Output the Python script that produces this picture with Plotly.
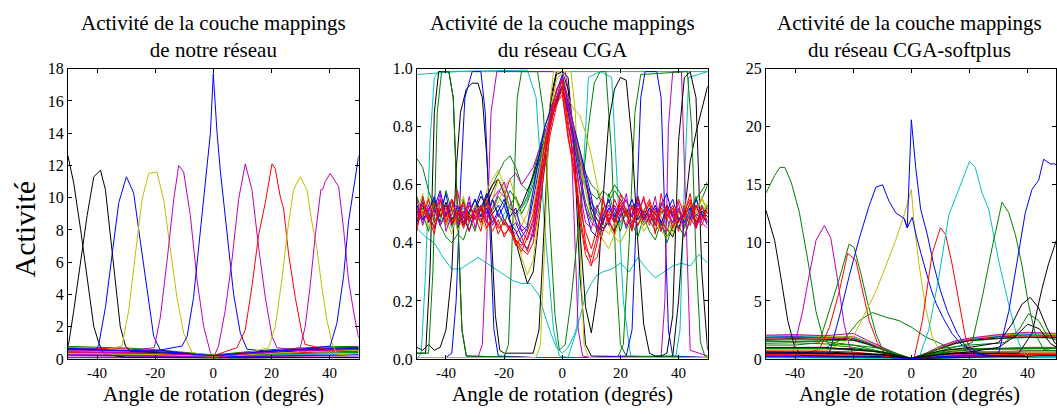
import plotly.graph_objects as go

# couleurs matplotlib "classiques"
B, G, R, C, M, Y, K = '#0000ff', '#008000', '#ff0000', '#00bfbf', '#bf00bf', '#bfbf00', '#000000'
FONT = 'Liberation Serif'

ANGLE_TICKS = [-40, -20, 0, 20, 40]
ANGLE_LABELS = ['-40', '-20', '0', '20', '40']
Y1_TICKS = list(range(0, 19, 2))
Y2_TICKS = [0.0, 0.2, 0.4, 0.6, 0.8, 1.0]
Y3_TICKS = [0, 5, 10, 15, 20, 25]

TITLES = [('Activité de la couche mappings', 'de notre réseau'),
          ('Activité de la couche mappings', 'du réseau CGA'),
          ('Activité de la couche mappings', 'du réseau CGA-softplus')]
XLABEL = 'Angle de rotation (degrés)'
YLABEL = 'Activité'

# ---------------- panneau 1 : notre réseau ----------------
n_k1_x = [-50, -48, -45.7, -43.4, -41.1, -39.4, -37.7, -30, -20, -10, 0, 10, 20, 30, 40, 50]
n_k1_y = [12.6, 10.9, 8.1, 4.9, 2.0, 1.0, 0.3, 0.1, 0.08, 0.06, 0.05, 0.06, 0.08, 0.1, 0.1, 0.1]
n_k2_x = [-50, -49.7, -48, -45.7, -43.4, -41.1, -38.8, -37.1, -35.4, -33.7, -32, -30.2, -28.5, -20, -10, 0, 10, 20, 30, 40, 50]
n_k2_y = [0.8, 1.0, 3.0, 5.9, 8.9, 11.3, 11.7, 10.5, 7.7, 4.5, 2.0, 0.8, 0.45, 0.4, 0.3, 0.2, 0.3, 0.4, 0.5, 0.55, 0.6]
n_b1_x = [-50, -40, -39.4, -37.1, -34.8, -32.5, -29.9, -27.4, -25.1, -22.8, -20.5, -18.2, -10, 0, 10, 20, 30, 40, 50]
n_b1_y = [0.65, 0.62, 0.9, 3.2, 6.5, 9.7, 11.3, 10.3, 7.3, 4.2, 1.4, 0.55, 0.35, 0.2, 0.35, 0.5, 0.6, 0.65, 0.7]
n_y1_x = [-50, -40, -31.4, -29.1, -26.8, -24.5, -22.2, -19.4, -17.1, -14.8, -12.5, -10.2, -7.3, 0, 10, 20, 30, 40, 50]
n_y1_y = [0.5, 0.48, 0.8, 3.0, 6.5, 9.9, 11.5, 11.6, 9.9, 6.9, 3.8, 1.6, 0.4, 0.15, 0.25, 0.35, 0.45, 0.5, 0.55]
n_m1_x = [-50, -30, -20.3, -18.2, -15.9, -13.6, -11.9, -10.2, -7.9, -5.6, -3.3, -1.0, 0.1, 10, 20, 30, 40, 50]
n_m1_y = [0.55, 0.5, 0.7, 2.6, 6.1, 9.9, 12.0, 11.6, 8.9, 4.9, 2.0, 0.4, 0.1, 0.3, 0.45, 0.55, 0.6, 0.65]
n_b2_x = [-50, -30, -20, -10.8, -9, -6.8, -4.5, -2.2, -1, 0, 1.3, 2.4, 4.7, 7, 9.3, 11.6, 20, 30, 40, 50]
n_b2_y = [0.6, 0.55, 0.5, 0.8, 1.4, 3.8, 7.7, 11.7, 14.0, 17.7, 14.0, 11.7, 7.7, 4.0, 1.6, 0.6, 0.45, 0.55, 0.6, 0.65]
n_m2_x = [-50, -40, -30, -20, -10, 0.1, 1.8, 4.1, 6.4, 8.7, 11, 13.3, 15.6, 17.9, 20.2, 21.9, 30, 40, 50]
n_m2_y = [0.3, 0.28, 0.25, 0.2, 0.15, 0.1, 0.8, 3.0, 6.1, 9.9, 12.1, 10.5, 6.9, 3.8, 1.4, 0.7, 0.5, 0.55, 0.6]
n_r1_x = [-50, -40, -30, -20, -10, 0, 8.1, 11, 13.3, 15.6, 17.9, 20.2, 21.3, 23, 24.2, 25.9, 28.2, 30.5, 31.6, 40, 50]
n_r1_y = [0.4, 0.38, 0.35, 0.3, 0.25, 0.2, 0.7, 1.8, 4.5, 7.7, 9.7, 12.1, 11.8, 10.1, 9.3, 6.5, 3.8, 1.6, 0.9, 0.55, 0.6]
n_y2_x = [-50, -40, -30, -20, -10, 0, 10, 19, 21.3, 23.6, 25.5, 27.6, 29.9, 32.2, 33.9, 35.6, 37.3, 39.1, 40.8, 42.5, 50]
n_y2_y = [0.35, 0.33, 0.3, 0.27, 0.22, 0.18, 0.3, 0.7, 2.0, 4.9, 7.9, 10.5, 11.3, 10.5, 8.5, 6.9, 4.5, 2.4, 1.0, 0.3, 0.2]
n_m3_x = [-50, -40, -30, -20, -10, 0, 10, 20, 29.9, 31.6, 33.3, 35.1, 37, 37.6, 38.5, 40.2, 43.1, 44.8, 46.5, 48.2, 50]
n_m3_y = [0.45, 0.43, 0.4, 0.35, 0.28, 0.2, 0.3, 0.4, 0.7, 2.0, 4.5, 7.7, 10.5, 10.5, 11.0, 11.5, 10.7, 8.1, 4.9, 3.0, 1.3]
n_b3_x = [-50, -40, -30, -20, -10, 0, 10, 20, 30, 40.2, 42.5, 44.8, 46.5, 48.2, 50]
n_b3_y = [0.6, 0.58, 0.5, 0.45, 0.35, 0.2, 0.35, 0.5, 0.6, 0.8, 2.2, 5.1, 8.5, 10.5, 12.6]

# unités peu actives (fond) du panneau 1
n_base_x = [-50, -40, -30, -20, -10, 0, 10, 20, 30, 40, 50]
n_base_g1 = [0.78, 0.75, 0.68, 0.58, 0.42, 0.25, 0.42, 0.58, 0.68, 0.76, 0.78]
n_base_r1 = [0.7, 0.68, 0.62, 0.52, 0.38, 0.22, 0.38, 0.52, 0.62, 0.7, 0.72]
n_base_c1 = [0.5, 0.48, 0.44, 0.38, 0.3, 0.2, 0.3, 0.38, 0.44, 0.5, 0.52]
n_base_c2 = [0.3, 0.3, 0.28, 0.25, 0.2, 0.15, 0.2, 0.25, 0.28, 0.3, 0.32]
n_base_g2 = [0.6, 0.58, 0.52, 0.45, 0.34, 0.22, 0.34, 0.45, 0.52, 0.6, 0.62]
n_base_m1 = [0.2, 0.2, 0.18, 0.16, 0.14, 0.12, 0.14, 0.16, 0.18, 0.2, 0.2]
n_base_k1 = [0.08, 0.08, 0.07, 0.07, 0.06, 0.05, 0.06, 0.07, 0.07, 0.08, 0.08]
n_base_r2 = [0.45, 0.44, 0.4, 0.35, 0.28, 0.2, 0.28, 0.35, 0.4, 0.45, 0.47]
n_base_b1 = [0.25, 0.24, 0.22, 0.2, 0.17, 0.14, 0.17, 0.2, 0.22, 0.25, 0.26]
n_base_y1 = [0.55, 0.53, 0.48, 0.42, 0.33, 0.22, 0.33, 0.42, 0.48, 0.55, 0.57]
n_base_g3 = [0.38, 0.37, 0.34, 0.3, 0.25, 0.18, 0.25, 0.3, 0.34, 0.38, 0.4]
n_base_m2 = [0.1, 0.1, 0.09, 0.09, 0.08, 0.07, 0.08, 0.09, 0.09, 0.1, 0.1]

# ---------------- panneau 2 : réseau CGA ----------------
cga_grid = list(range(-50, 51, 2))

# unités "interrupteur" (0 ou 1)
cga_ctop_x = [-50, -44, -36, -20, 0, 20, 40, 50]
cga_ctop_y = [0.98, 0.985, 0.99, 0.99, 0.99, 0.99, 0.99, 0.99]
cga_cbump_x = [-50, -48.5, -47, -45.5, -44, -42.5, -12, -9, -6, -3, -1, 2, 5, 7, 9, 13, 17, 19, 21, 23.5, 39, 40.5, 42, 43.5, 50]
cga_cbump_y = [0.0, 0.02, 0.3, 0.75, 0.97, 0.99, 0.995, 0.9, 0.45, 0.1, 0.01, 0.005, 0.1, 0.6, 0.97, 0.99, 0.97, 0.6, 0.2, 0.01, 0.005, 0.1, 0.6, 0.97, 0.99]
cga_cv_x = [-50, -47, -44, -41, -38, -35, -32, -29, -26, -23, -20, -17, -14, -11, -8,
            -6, -4, -2, 0, 2, 4, 6, 8, 10, 12, 14,
            17, 20, 23, 26, 29, 32, 35, 38, 41, 44, 47, 50]
cga_cv_y = [0.45, 0.42, 0.40, 0.35, 0.31, 0.31, 0.33, 0.35, 0.33, 0.31, 0.29, 0.27, 0.26, 0.26, 0.22,
            0.15, 0.09, 0.04, 0.02, 0.04, 0.08, 0.14, 0.22, 0.26, 0.29, 0.30,
            0.31, 0.33, 0.30, 0.35, 0.31, 0.28, 0.30, 0.32, 0.33, 0.32, 0.36, 0.33]
cga_kl_x = [-50, -47, -45.5, -44, -42.5, -39, -37.5, -36, -34.5, -33, -10, 10, 38, 40, 42, 44, 46, 48, 50]
cga_kl_y = [0.02, 0.02, 0.3, 0.85, 0.99, 0.99, 0.9, 0.5, 0.1, 0.01, 0.005, 0.005, 0.01, 0.2, 0.5, 0.68, 0.78, 0.86, 0.94]
cga_kb_x = [-50, -48, -46, -44, -42, -40, -38, -36.5, -35, -33, -31, -29, -27.5, -26, -24.5, -23, -21.5, -20,
            -10, -8, -6, -4, -2, 0, 2, 4, 6, 8, 10, 50]
cga_kb_y = [0.04, 0.03, 0.05, 0.03, 0.04, 0.1, 0.3, 0.65, 0.85, 0.93, 0.95, 0.95, 0.9, 0.7, 0.45, 0.15, 0.03, 0.02,
            0.02, 0.1, 0.5, 0.9, 0.99, 0.99, 0.97, 0.75, 0.3, 0.05, 0.01, 0.005]
cga_kr_y = [0.52, 0.48, 0.51, 0.55, 0.49, 0.53, 0.47, 0.50, 0.54, 0.49,
            0.51, 0.56, 0.53, 0.58, 0.62, 0.57, 0.48, 0.40, 0.33, 0.26,
            0.30, 0.48, 0.68, 0.88, 0.98, 0.99, 0.93, 0.72, 0.45, 0.18,
            0.09, 0.22, 0.55, 0.82, 0.93, 0.97, 0.96, 0.75, 0.40, 0.12,
            0.02, 0.01, 0.01, 0.02, 0.15, 0.75, 0.97, 0.99, 0.9, 0.3, 0.03]
cga_bs_x = [-50, -40, -38, -36.5, -35, -33.5, -31, -28, -26.5, -25, -23.5, -22, -10, 10,
            22, 24, 25.5, 27, 28.5, 32.5, 34, 35.3, 36.5, 38, 50]
cga_bs_y = [0.005, 0.005, 0.02, 0.2, 0.6, 0.9, 0.99, 0.99, 0.85, 0.45, 0.1, 0.01, 0.005, 0.005,
            0.01, 0.1, 0.5, 0.9, 0.99, 0.99, 0.9, 0.5, 0.1, 0.01, 0.005]
cga_ms_x = [-50, -29, -27.5, -26, -24.5, -22.5, 1, 2.5, 4, 5.5, 7, 10, 34, 35.3, 36.5, 38, 41, 42.5, 44, 50]
cga_ms_y = [0.005, 0.005, 0.05, 0.4, 0.85, 0.99, 0.99, 0.9, 0.5, 0.1, 0.01, 0.005, 0.01, 0.2, 0.8, 0.99, 0.99, 0.5, 0.03, 0.01]
cga_g1_x = [-50, -20, -18.5, -17, -15.5, -14, -8.5, -6.5, -4.5, -2.5, -1, 1, 3, 5, 7, 9, 11, 13, 15, 17, 18.5, 20, 22, 50]
cga_g1_y = [0.005, 0.005, 0.05, 0.45, 0.9, 0.99, 0.99, 0.85, 0.5, 0.15, 0.03, 0.05, 0.2, 0.4, 0.6, 0.8, 0.95, 0.99, 0.99, 0.7, 0.3, 0.05, 0.01, 0.005]
cga_g2_x = [-50, -46, -44.5, -43, -41.5, -39, -37.5, -36, -34.5, -33, -10, 19, 21, 23, 25, 27, 43, 44.5, 46, 47.5, 49, 50]
cga_g2_y = [0.02, 0.02, 0.3, 0.85, 0.99, 0.99, 0.9, 0.5, 0.1, 0.01, 0.005, 0.005, 0.05, 0.4, 0.85, 0.98, 0.99, 0.8, 0.35, 0.06, 0.01, 0.01]
cga_ys_x = [-50, -20, -9, -7.5, -6, -4.5, -3, 3, 4.5, 6, 7.5, 9, 50]
cga_ys_y = [0.005, 0.005, 0.005, 0.05, 0.4, 0.85, 0.99, 0.99, 0.85, 0.4, 0.05, 0.005, 0.005]

# unités bruitées autour de 0.5 (grille de 2 degrés)
cga_r1 = [0.52, 0.49, 0.55, 0.47, 0.51, 0.53, 0.46, 0.50, 0.54, 0.48,
          0.51, 0.47, 0.53, 0.49, 0.45, 0.47, 0.44, 0.41, 0.38, 0.36,
          0.40, 0.52, 0.66, 0.78, 0.87, 0.94, 0.80, 0.70, 0.58, 0.40,
          0.33, 0.35, 0.44, 0.50, 0.47, 0.53, 0.49, 0.52, 0.46, 0.51,
          0.55, 0.48, 0.50, 0.53, 0.45, 0.51, 0.49, 0.54, 0.47, 0.52, 0.50]
cga_r2 = [0.48, 0.53, 0.50, 0.45, 0.52, 0.49, 0.55, 0.47, 0.51, 0.44,
          0.50, 0.53, 0.48, 0.44, 0.48, 0.42, 0.46, 0.40, 0.37, 0.42,
          0.48, 0.60, 0.70, 0.80, 0.90, 0.92, 0.76, 0.66, 0.52, 0.44,
          0.38, 0.45, 0.52, 0.47, 0.55, 0.50, 0.46, 0.53, 0.49, 0.56,
          0.47, 0.51, 0.44, 0.52, 0.49, 0.55, 0.50, 0.46, 0.53, 0.48, 0.51]
cga_r3 = [0.46, 0.51, 0.48, 0.54, 0.49, 0.52, 0.47, 0.51, 0.45, 0.50,
          0.48, 0.52, 0.45, 0.49, 0.46, 0.43, 0.45, 0.41, 0.39, 0.44,
          0.50, 0.62, 0.74, 0.82, 0.88, 0.91, 0.78, 0.64, 0.48, 0.36,
          0.32, 0.40, 0.48, 0.51, 0.47, 0.54, 0.50, 0.45, 0.52, 0.48,
          0.50, 0.46, 0.52, 0.49, 0.53, 0.47, 0.51, 0.55, 0.49, 0.46, 0.52]
cga_r4 = [0.44, 0.56, 0.49, 0.43, 0.55, 0.47, 0.52, 0.58, 0.46, 0.53,
          0.49, 0.44, 0.55, 0.50, 0.43, 0.48, 0.45, 0.39, 0.42, 0.37,
          0.45, 0.58, 0.72, 0.84, 0.93, 0.96, 0.82, 0.68, 0.50, 0.38,
          0.35, 0.42, 0.55, 0.48, 0.43, 0.57, 0.51, 0.44, 0.56, 0.49,
          0.54, 0.43, 0.57, 0.48, 0.52, 0.44, 0.50, 0.57, 0.45, 0.53, 0.47]
cga_b1 = [0.50, 0.55, 0.47, 0.52, 0.58, 0.49, 0.53, 0.45, 0.50, 0.54,
          0.48, 0.52, 0.57, 0.50, 0.53, 0.48, 0.45, 0.47, 0.42, 0.45,
          0.55, 0.66, 0.76, 0.84, 0.90, 0.96, 0.86, 0.76, 0.68, 0.62,
          0.50, 0.46, 0.44, 0.48, 0.52, 0.47, 0.51, 0.49, 0.54, 0.48,
          0.52, 0.50, 0.46, 0.53, 0.49, 0.51, 0.47, 0.52, 0.50, 0.48, 0.53]
cga_b2 = [0.53, 0.48, 0.51, 0.56, 0.46, 0.50, 0.54, 0.52, 0.47, 0.51,
          0.55, 0.49, 0.52, 0.47, 0.51, 0.55, 0.49, 0.52, 0.44, 0.46,
          0.58, 0.70, 0.80, 0.86, 0.92, 0.98, 0.88, 0.80, 0.72, 0.63,
          0.56, 0.44, 0.47, 0.52, 0.49, 0.53, 0.50, 0.55, 0.48, 0.51,
          0.49, 0.53, 0.47, 0.51, 0.55, 0.48, 0.50, 0.52, 0.46, 0.51, 0.49]
cga_b3 = [0.47, 0.54, 0.50, 0.45, 0.51, 0.57, 0.46, 0.53, 0.49, 0.44,
          0.52, 0.58, 0.50, 0.55, 0.49, 0.53, 0.47, 0.44, 0.40, 0.38,
          0.43, 0.56, 0.70, 0.81, 0.89, 0.94, 0.85, 0.74, 0.62, 0.52,
          0.44, 0.42, 0.49, 0.55, 0.47, 0.52, 0.45, 0.50, 0.56, 0.48,
          0.52, 0.46, 0.53, 0.57, 0.49, 0.45, 0.51, 0.48, 0.55, 0.50, 0.46]
cga_g3 = [0.47, 0.52, 0.49, 0.55, 0.50, 0.46, 0.52, 0.48, 0.51, 0.47,
          0.53, 0.49, 0.56, 0.60, 0.64, 0.68, 0.70, 0.66, 0.60, 0.58,
          0.62, 0.68, 0.74, 0.82, 0.88, 0.93, 0.84, 0.74, 0.66, 0.60,
          0.57, 0.55, 0.58, 0.56, 0.60, 0.57, 0.54, 0.52, 0.55, 0.50,
          0.53, 0.47, 0.51, 0.48, 0.44, 0.46, 0.42, 0.48, 0.52, 0.55, 0.60]
cga_g4 = [0.69, 0.66, 0.58, 0.52, 0.46, 0.42, 0.40, 0.43, 0.41, 0.47,
          0.52, 0.49, 0.54, 0.51, 0.56, 0.53, 0.58, 0.55, 0.52, 0.56,
          0.64, 0.72, 0.80, 0.86, 0.90, 0.95, 0.88, 0.80, 0.72, 0.64,
          0.60, 0.58, 0.52, 0.54, 0.58, 0.55, 0.51, 0.49, 0.46, 0.50,
          0.48, 0.44, 0.47, 0.42, 0.45, 0.49, 0.46, 0.51, 0.55, 0.58, 0.61]
cga_g5 = [0.56, 0.50, 0.44, 0.53, 0.47, 0.58, 0.51, 0.45, 0.55, 0.49,
          0.44, 0.52, 0.47, 0.55, 0.50, 0.46, 0.53, 0.56, 0.50, 0.54,
          0.60, 0.68, 0.76, 0.84, 0.90, 0.96, 0.88, 0.78, 0.64, 0.54,
          0.48, 0.53, 0.46, 0.57, 0.50, 0.44, 0.52, 0.47, 0.42, 0.49,
          0.44, 0.41, 0.47, 0.40, 0.46, 0.52, 0.45, 0.50, 0.56, 0.49, 0.53]
cga_m1 = [0.51, 0.47, 0.53, 0.50, 0.55, 0.48, 0.52, 0.46, 0.50, 0.53,
          0.49, 0.52, 0.47, 0.55, 0.58, 0.56, 0.62, 0.64, 0.60, 0.63,
          0.66, 0.72, 0.78, 0.84, 0.90, 0.95, 0.86, 0.78, 0.70, 0.62,
          0.54, 0.50, 0.47, 0.52, 0.49, 0.55, 0.51, 0.47, 0.53, 0.50,
          0.46, 0.52, 0.49, 0.44, 0.51, 0.47, 0.53, 0.49, 0.45, 0.50, 0.47]
cga_m2 = [0.49, 0.54, 0.48, 0.52, 0.46, 0.51, 0.55, 0.49, 0.53, 0.47,
          0.52, 0.48, 0.51, 0.46, 0.50, 0.47, 0.45, 0.43, 0.46, 0.44,
          0.42, 0.55, 0.70, 0.82, 0.90, 0.97, 0.90, 0.80, 0.66, 0.52,
          0.47, 0.45, 0.50, 0.53, 0.48, 0.51, 0.55, 0.49, 0.52, 0.47,
          0.51, 0.48, 0.54, 0.50, 0.47, 0.52, 0.46, 0.50, 0.53, 0.49, 0.48]
cga_m3 = [0.55, 0.46, 0.52, 0.49, 0.57, 0.44, 0.50, 0.53, 0.47, 0.56,
          0.45, 0.53, 0.49, 0.52, 0.57, 0.61, 0.55, 0.48, 0.44, 0.41,
          0.47, 0.60, 0.74, 0.85, 0.92, 0.97, 0.87, 0.72, 0.58, 0.47,
          0.45, 0.52, 0.56, 0.46, 0.53, 0.49, 0.57, 0.45, 0.51, 0.55,
          0.48, 0.56, 0.44, 0.51, 0.47, 0.54, 0.42, 0.49, 0.53, 0.47, 0.45]
cga_y1 = [0.54, 0.50, 0.56, 0.49, 0.52, 0.47, 0.53, 0.44, 0.49, 0.51,
          0.48, 0.53, 0.50, 0.55, 0.62, 0.58, 0.52, 0.45, 0.35, 0.29,
          0.34, 0.50, 0.70, 0.86, 0.96, 0.99, 0.90, 0.86, 0.84, 0.78,
          0.70, 0.60, 0.52, 0.46, 0.42, 0.40, 0.44, 0.48, 0.51, 0.46,
          0.50, 0.48, 0.44, 0.42, 0.47, 0.51, 0.49, 0.53, 0.50, 0.55, 0.52]
cga_y2 = [0.47, 0.51, 0.48, 0.53, 0.50, 0.46, 0.52, 0.49, 0.55, 0.48,
          0.52, 0.46, 0.58, 0.62, 0.65, 0.60, 0.55, 0.50, 0.46, 0.50,
          0.58, 0.66, 0.74, 0.82, 0.88, 0.93, 0.84, 0.75, 0.66, 0.58,
          0.50, 0.48, 0.45, 0.43, 0.47, 0.52, 0.49, 0.53, 0.48, 0.51,
          0.53, 0.50, 0.47, 0.44, 0.49, 0.52, 0.48, 0.51, 0.46, 0.50, 0.54]
cga_y3 = [0.51, 0.57, 0.45, 0.50, 0.54, 0.48, 0.43, 0.52, 0.56, 0.47,
          0.53, 0.49, 0.44, 0.51, 0.54, 0.59, 0.62, 0.55, 0.49, 0.46,
          0.52, 0.64, 0.76, 0.85, 0.91, 0.95, 0.88, 0.79, 0.70, 0.58,
          0.49, 0.44, 0.41, 0.38, 0.43, 0.47, 0.52, 0.46, 0.50, 0.44,
          0.47, 0.53, 0.49, 0.45, 0.43, 0.50, 0.54, 0.47, 0.51, 0.56, 0.50]
cga_k1 = [0.50, 0.53, 0.47, 0.51, 0.49, 0.54, 0.48, 0.52, 0.46, 0.50,
          0.55, 0.51, 0.56, 0.60, 0.62, 0.58, 0.52, 0.50, 0.53, 0.58,
          0.63, 0.70, 0.76, 0.83, 0.88, 0.94, 0.86, 0.78, 0.70, 0.62,
          0.52, 0.48, 0.45, 0.47, 0.44, 0.49, 0.52, 0.47, 0.50, 0.46,
          0.49, 0.52, 0.47, 0.45, 0.42, 0.48, 0.50, 0.53, 0.47, 0.51, 0.49]
cga_c1 = [0.52, 0.48, 0.51, 0.47, 0.53, 0.50, 0.45, 0.49, 0.52, 0.48,
          0.51, 0.47, 0.52, 0.49, 0.46, 0.50, 0.53, 0.49, 0.52, 0.55,
          0.62, 0.70, 0.78, 0.84, 0.90, 0.94, 0.85, 0.77, 0.68, 0.60,
          0.54, 0.51, 0.48, 0.52, 0.49, 0.46, 0.50, 0.53, 0.48, 0.51,
          0.47, 0.50, 0.53, 0.49, 0.52, 0.48, 0.46, 0.51, 0.49, 0.53, 0.50]

# ---------------- panneau 3 : réseau CGA-softplus ----------------
sp_g1_x = [-50, -47, -45.2, -43.5, -41.3, -38.5, -35.6, -32.8, -30.5, -28, -20, -10, 0, 10, 20, 30, 40, 50]
sp_g1_y = [14.3, 15.8, 16.5, 16.5, 15.2, 12.6, 8.5, 4.1, 1.9, 1.2, 1.0, 0.6, 0.05, 0.5, 0.8, 0.9, 0.9, 0.9]
sp_k1_x = [-50, -47, -44.8, -42.5, -40.2, -37.9, -30, -20, -10, 0, 10, 20, 30, 40, 50]
sp_k1_y = [12.8, 10.2, 6.9, 3.3, 1.1, 0.3, 0.25, 0.2, 0.15, 0.02, 0.1, 0.15, 0.2, 0.2, 0.2]
sp_m1_x = [-50, -42, -40.8, -37.4, -35, -32.8, -29.9, -27.7, -25.4, -23.1, -21.4, -20.2, -10, 0, 10, 20, 30, 40, 50]
sp_m1_y = [0.4, 0.4, 0.5, 4.1, 7.4, 10.2, 11.5, 10.4, 6.9, 3.0, 1.2, 0.5, 0.3, 0.02, 0.3, 0.4, 0.5, 0.5, 0.5]
sp_g2_x = [-50, -40, -31.7, -28.2, -24.8, -21.4, -19.7, -17.4, -15.1, -12.2, -9.9, 0, 10, 20, 30, 40, 50]
sp_g2_y = [1.2, 1.2, 1.4, 4.1, 6.9, 9.9, 9.6, 7.4, 4.9, 2.2, 0.8, 0.05, 0.5, 0.8, 0.9, 1.0, 1.0]
sp_r1_x = [-50, -40, -31.7, -28.2, -24.8, -21.9, -19.1, -16.8, -14.5, -11.7, -8.8, 0, 10, 20, 30, 40, 50]
sp_r1_y = [0.3, 0.3, 0.8, 2.7, 5.8, 9.1, 8.5, 5.8, 3.3, 1.4, 0.4, 0.02, 0.2, 0.3, 0.35, 0.4, 0.4]
sp_b1_x = [-50, -40, -28.2, -24.8, -21.4, -17.9, -14.5, -12.2, -9.9, -7.7, -5.4, -2.5, -1.4, 0,
           1.5, 3.2, 5.5, 7.8, 10.1, 12.4, 15.8, 18.7, 25, 40, 50]
sp_b1_y = [0.6, 0.55, 0.5, 3.6, 7.1, 10.4, 13.2, 14.8, 15.0, 13.6, 12.6, 12.1, 11.3, 20.6,
           16.5, 12.9, 10.7, 8.0, 5.8, 4.1, 2.2, 1.1, 0.3, 0.3, 0.3]
sp_b2_x = [-2.5, -1.4, 0.3, 1.7, 3.4, 5.1, 6.8, 8.5, 11, 14, 17, 21, 25]
sp_b2_y = [12.1, 11.3, 12.2, 10.6, 9.0, 7.4, 6.0, 4.8, 3.5, 2.2, 1.3, 0.6, 0.3]
sp_y1_x = [-50, -40, -28, -20, -15.7, -12.2, -8.8, -5.4, -2.5, 0, 0.9, 2.6, 4.9, 7.2, 9.5, 20, 30, 40, 50]
sp_y1_y = [0.8, 0.8, 0.8, 1.9, 4.1, 5.8, 8.0, 10.2, 12.4, 14.6, 11.8, 8.2, 4.4, 1.9, 0.8, 0.6, 0.6, 0.6, 0.6]
sp_gw_x = [-50, -30, -22.5, -17.9, -13.4, -8.8, -4.2, 0.3, 4.9, 9.5, 14, 20, 30, 40, 50]
sp_gw_y = [0.9, 0.9, 1.9, 3.3, 4.0, 3.6, 3.3, 2.7, 1.9, 1.4, 0.8, 0.6, 0.6, 0.7, 0.7]
sp_r2_x = [-50, -30, -10, 0, 0.9, 3.8, 7.2, 10, 11.8, 14, 16.3, 18.6, 20.9, 30, 40, 50]
sp_r2_y = [0.4, 0.4, 0.3, 0.02, 0.05, 3.3, 9.1, 11.3, 10.7, 8.2, 4.9, 1.9, 0.5, 0.4, 0.4, 0.4]
sp_c1_x = [-50, -30, -10, 0, 2.6, 6, 9.5, 12.9, 16.3, 20, 22, 24.3, 26.6, 30, 33.5, 36.9, 39.2, 45, 50]
sp_c1_y = [0.15, 0.15, 0.1, 0.02, 0.1, 2.5, 7.1, 12.4, 14.6, 17.0, 16.5, 14.3, 12.9, 8.5, 4.7, 1.4, 0.3, 0.2, 0.2]
sp_g3_x = [-50, -30, -10, 0, 10, 20.9, 24.3, 27.8, 31.2, 33.5, 35.8, 38.1, 40.3, 42.6, 45.5, 50]
sp_g3_y = [0.9, 0.9, 0.6, 0.05, 0.7, 1.4, 5.2, 9.6, 13.5, 12.6, 10.7, 8.0, 4.7, 2.2, 0.8, 0.7]
sp_b3_x = [-50, -30, -10, 0, 10, 20, 30, 33.5, 36.9, 39.2, 41.5, 43.8, 45.5, 47.8, 49.3, 50]
sp_b3_y = [0.2, 0.2, 0.15, 0.02, 0.2, 0.3, 0.5, 4.1, 9.1, 12.6, 14.6, 15.4, 17.2, 16.8, 16.8, 16.7]
sp_k2_x = [-50, -30, -10, 0, 10, 20, 30, 36.9, 41.5, 44.9, 47.2, 49.3, 50]
sp_k2_y = [0.6, 0.6, 0.4, 0.03, 0.4, 0.5, 0.5, 0.5, 2.2, 6.0, 8.2, 9.9, 10.3]
sp_k3_x = [-50, -30, -10, 0, 10, 20, 30, 34.6, 38, 40.9, 43.8, 46.6, 49.3, 50]
sp_k3_y = [1.0, 1.0, 0.6, 0.04, 0.7, 1.0, 1.4, 3.0, 4.7, 5.3, 4.4, 2.7, 1.4, 1.3]
sp_g4_x = [-50, -30, -10, 0, 10, 20, 32, 37, 40.3, 43.8, 47, 50]
sp_g4_y = [1.5, 1.5, 0.9, 0.04, 0.9, 1.2, 1.4, 2.5, 3.9, 3.3, 1.9, 1.6]
sp_k4_x = [-50, -30, -10, 0, 10, 20, 30, 36, 40, 44, 48, 50]
sp_k4_y = [0.5, 0.5, 0.35, 0.03, 0.4, 0.6, 1.0, 2.0, 3.0, 2.6, 1.3, 1.0]

sp_base_x = [-50, -40, -30, -20, -15, -10, -5, 0, 5, 10, 15, 20, 30, 40, 50]
sp_base_m1 = [2.05, 2.1, 2.0, 2.2, 1.6, 1.0, 0.45, 0.05, 0.5, 1.1, 1.55, 1.8, 2.1, 2.3, 2.2]
sp_base_b1 = [1.9, 1.95, 1.85, 1.8, 1.4, 0.9, 0.4, 0.05, 0.45, 1.0, 1.45, 1.7, 1.95, 2.1, 2.0]
sp_base_r1 = [1.8, 1.85, 1.8, 1.75, 1.35, 0.85, 0.38, 0.05, 0.42, 0.95, 1.4, 1.65, 1.9, 2.0, 1.9]
sp_base_c1 = [1.95, 2.0, 1.9, 1.85, 1.45, 0.95, 0.42, 0.05, 0.48, 1.05, 1.5, 1.75, 2.0, 2.15, 2.05]
sp_base_g1 = [1.6, 1.65, 1.6, 1.6, 1.25, 0.8, 0.35, 0.05, 0.4, 0.9, 1.3, 1.55, 1.75, 1.85, 1.8]
sp_base_y1 = [2.0, 2.05, 1.95, 1.9, 1.5, 1.0, 0.45, 0.05, 0.5, 1.05, 1.5, 1.75, 2.05, 2.2, 2.1]
sp_base_k1 = [1.7, 1.75, 1.7, 1.65, 1.3, 0.8, 0.36, 0.05, 0.42, 0.92, 1.35, 1.6, 1.8, 1.9, 1.85]
sp_base_m2 = [1.85, 1.9, 1.85, 1.95, 1.45, 0.92, 0.4, 0.05, 0.46, 1.0, 1.45, 1.7, 2.0, 2.2, 2.1]
sp_low_k1 = [0.9, 0.92, 0.9, 0.88, 0.75, 0.5, 0.25, 0.03, 0.2, 0.5, 0.7, 0.8, 0.85, 0.88, 0.9]
sp_low_g1 = [1.35, 1.4, 1.3, 1.2, 0.9, 0.6, 0.3, 0.03, 0.3, 0.6, 0.8, 0.9, 0.92, 0.92, 0.95]
sp_low_r1 = [0.5, 0.5, 0.48, 0.45, 0.4, 0.3, 0.15, 0.02, 0.2, 0.35, 0.45, 0.5, 0.55, 0.5, 0.52]
sp_low_c1 = [0.1, 0.1, 0.1, 0.1, 0.1, 0.08, 0.05, 0.02, 0.05, 0.08, 0.1, 0.1, 0.1, 0.1, 0.1]
sp_low_b1 = [0.3, 0.3, 0.28, 0.28, 0.25, 0.2, 0.1, 0.02, 0.1, 0.2, 0.25, 0.28, 0.3, 0.3, 0.3]
sp_low_m1 = [0.2, 0.2, 0.2, 0.2, 0.18, 0.15, 0.08, 0.02, 0.08, 0.15, 0.18, 0.2, 0.2, 0.2, 0.2]
sp_low_r2 = [0.7, 0.7, 0.68, 0.6, 0.5, 0.35, 0.18, 0.02, 0.2, 0.4, 0.55, 0.62, 0.66, 0.7, 0.72]


panel1 = [
    (n_base_x, n_base_g1, G), (n_base_x, n_base_r1, R), (n_base_x, n_base_c1, C), (n_base_x, n_base_c2, C),
    (n_base_x, n_base_g2, G), (n_base_x, n_base_m1, M), (n_base_x, n_base_k1, K), (n_base_x, n_base_r2, R),
    (n_base_x, n_base_b1, B), (n_base_x, n_base_y1, Y), (n_base_x, n_base_g3, G), (n_base_x, n_base_m2, M),
    (n_k1_x, n_k1_y, K), (n_k2_x, n_k2_y, K), (n_b1_x, n_b1_y, B), (n_y1_x, n_y1_y, Y),
    (n_m1_x, n_m1_y, M), (n_b2_x, n_b2_y, B), (n_m2_x, n_m2_y, M), (n_r1_x, n_r1_y, R),
    (n_y2_x, n_y2_y, Y), (n_m3_x, n_m3_y, M), (n_b3_x, n_b3_y, B),
]
panel2 = [
    (cga_ctop_x, cga_ctop_y, C), (cga_cbump_x, cga_cbump_y, C), (cga_cv_x, cga_cv_y, C),
    (cga_kl_x, cga_kl_y, K), (cga_kb_x, cga_kb_y, K), (cga_bs_x, cga_bs_y, B),
    (cga_ms_x, cga_ms_y, M), (cga_g1_x, cga_g1_y, G), (cga_g2_x, cga_g2_y, G), (cga_ys_x, cga_ys_y, Y),
    (cga_grid, cga_kr_y, K),
    (cga_grid, cga_g3, G), (cga_grid, cga_g4, G), (cga_grid, cga_c1, C), (cga_grid, cga_y2, Y),
    (cga_grid, cga_k1, K), (cga_grid, cga_b1, B), (cga_grid, cga_g5, G), (cga_grid, cga_m1, M),
    (cga_grid, cga_y1, Y), (cga_grid, cga_b3, B), (cga_grid, cga_y3, Y), (cga_grid, cga_b2, B),
    (cga_grid, cga_m2, M), (cga_grid, cga_r1, R), (cga_grid, cga_m3, M), (cga_grid, cga_r2, R),
    (cga_grid, cga_r3, R), (cga_grid, cga_r4, R),
]
panel3 = [
    (sp_base_x, sp_low_c1, C), (sp_base_x, sp_low_m1, M), (sp_base_x, sp_low_b1, B), (sp_base_x, sp_low_r1, R),
    (sp_base_x, sp_low_r2, R), (sp_base_x, sp_low_k1, K), (sp_base_x, sp_low_g1, G),
    (sp_base_x, sp_base_g1, G), (sp_base_x, sp_base_k1, K), (sp_base_x, sp_base_r1, R), (sp_base_x, sp_base_b1, B),
    (sp_base_x, sp_base_m2, M), (sp_base_x, sp_base_c1, C), (sp_base_x, sp_base_y1, Y), (sp_base_x, sp_base_m1, M),
    (sp_g1_x, sp_g1_y, G), (sp_k1_x, sp_k1_y, K), (sp_m1_x, sp_m1_y, M), (sp_g2_x, sp_g2_y, G),
    (sp_r1_x, sp_r1_y, R), (sp_gw_x, sp_gw_y, G), (sp_y1_x, sp_y1_y, Y), (sp_b2_x, sp_b2_y, B),
    (sp_b1_x, sp_b1_y, B), (sp_r2_x, sp_r2_y, R), (sp_c1_x, sp_c1_y, C), (sp_g3_x, sp_g3_y, G),
    (sp_k4_x, sp_k4_y, K), (sp_g4_x, sp_g4_y, G), (sp_k3_x, sp_k3_y, K), (sp_k2_x, sp_k2_y, K),
    (sp_b3_x, sp_b3_y, B),
]

W, H = 1057, 414
# position des axes en pixels (gauche, droite)
PANELS_PX = [(68, 359), (417.3, 708.3), (766.7, 1057)]
TITLE_CX = [213.5, 562.8, 910]
Y_DOMAIN = [1 - 366 / H, 1 - 63.3 / H]

fig = go.Figure()
for i, curves in enumerate([panel1, panel2, panel3]):
    suffix = '' if i == 0 else str(i + 1)
    for xs, ys, col in curves:
        assert len(xs) == len(ys), (i, len(xs), len(ys))
        fig.add_trace(go.Scatter(x=xs, y=ys, mode='lines', line=dict(color=col, width=1),
                                 xaxis='x' + suffix, yaxis='y' + suffix,
                                 showlegend=False, hoverinfo='skip'))

axis_style = dict(showline=True, linecolor='black', linewidth=1, mirror='ticks',
                  ticks='inside', ticklen=4, tickcolor='black', showgrid=False, zeroline=False,
                  tickfont=dict(family=FONT, size=15, color='black'))

layout = dict(width=W, height=H, autosize=False, margin=dict(l=0, r=0, t=0, b=0, pad=0),
              paper_bgcolor='white', plot_bgcolor='white', showlegend=False)
y_ranges = [([0, 18], Y1_TICKS, None), ([0, 1], Y2_TICKS, '.1f'), ([0, 25], Y3_TICKS, None)]
for i, (left, right) in enumerate(PANELS_PX):
    suffix = '' if i == 0 else str(i + 1)
    x_range = [-50, 50] if i < 2 else [-50, -50 + 100 * (right - left) / 291]
    layout['xaxis' + suffix] = dict(axis_style, domain=[left / W, right / W], range=x_range,
                                    tickvals=ANGLE_TICKS, ticktext=ANGLE_LABELS,
                                    anchor='y' + suffix)
    yr, yt, fmt = y_ranges[i]
    ydict = dict(axis_style, domain=Y_DOMAIN, range=yr, tickvals=yt, anchor='x' + suffix,
                 tickfont=dict(family=FONT, size=16, color='black'))
    if fmt:
        ydict['tickformat'] = fmt
    layout['yaxis' + suffix] = ydict
fig.update_layout(**layout)

annotations = []
for i, xc_px in enumerate(TITLE_CX):
    xc = xc_px / W
    # titre sur deux lignes, dans un seul texte
    annotations.append(dict(text=TITLES[i][0] + '<br>' + TITLES[i][1], x=xc, y=1 - 29.5 / H,
                            xref='paper', yref='paper', xanchor='center', yanchor='middle',
                            showarrow=False, align='center',
                            font=dict(family=FONT, size=21, color='black')))
    annotations.append(dict(text=XLABEL, x=xc, y=0, xref='paper', yref='paper',
                            xanchor='center', yanchor='bottom', yshift=-3, showarrow=False,
                            font=dict(family=FONT, size=21, color='black')))
annotations.append(dict(text=YLABEL, x=25 / W, y=1 - 230 / H, xref='paper', yref='paper',
                        xanchor='center', yanchor='middle', showarrow=False, textangle=-90,
                        font=dict(family=FONT, size=30, color='black')))
fig.update_layout(annotations=annotations)

# pas de marge autour du graphique dans la page, pas de barre d'outils
fig.write_html("out.html", config={'displayModeBar': False},
               post_script="document.body.style.margin='0px';document.body.style.overflow='hidden';")
